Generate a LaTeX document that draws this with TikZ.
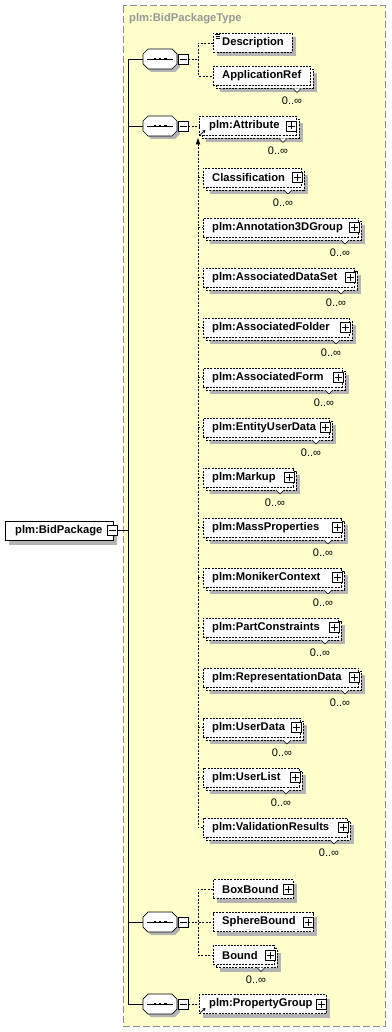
\documentclass[tikz,border=0pt]{standalone}
\usepackage{fontspec}
\setmainfont{Liberation Sans}
\usetikzlibrary{arrows.meta}
\definecolor{ylw}{RGB}{255,255,204}
\definecolor{shd}{RGB}{180,180,180}
\definecolor{frm}{RGB}{140,140,140}
\definecolor{ttl}{RGB}{150,150,150}
\newcommand\elfont{\fontsize{11.2}{13}\selectfont\bfseries}
\newcommand\occfont{\fontsize{11}{13}\selectfont}
\tikzset{
  elbox/.style={draw=black, fill=white, dash pattern=on 2pt off 1.2pt, line width=0.7pt, inner sep=0pt},
  pmbox/.style={draw=black, fill=white, solid, line width=0.6pt, minimum size=10pt, inner sep=0pt},
  lbl/.style={font=\elfont, anchor=west, inner sep=0pt},
  occ/.style={font=\occfont, inner sep=0pt},
  conn/.style={dash pattern=on 2pt off 1.5pt, line width=0.7pt},
  trunk/.style={line width=0.8pt},
}
% #1 name, #2 left, #3 right, #4 y, #5 text, #6 stacked(1/0)
\newcommand\myel[6]{%
  \ifnum#6=1
    \fill[shd] (#2+7,#4-9.5+7) rectangle (#3+7,#4+9.5+7);
    \draw[elbox] (#2+3,#4-9.5+3) rectangle (#3+3,#4+9.5+3);
  \else
    \fill[shd] (#2+4,#4-9.5+4) rectangle (#3+4,#4+9.5+4);
  \fi
  \pgfmathsetmacro\mywd{#3-#2}%
  \node[elbox, minimum width=\mywd pt, minimum height=19pt, anchor=west] (#1) at (#2,#4) {};
  \node[lbl] (#1t) at (#2+9,#4) {#5};
  \ifnum#6=1
    \draw[line width=0.6pt, fill=white] (#3-17,#4+12.5) -- (#3-13,#4+16.5) -- (#3-9,#4+12.5);
    \node[occ] (#1o) at (#3-18,#4+25) {0..∞};
  \fi
}
\newcommand\myplus[3]{% name, x, y
  \node[pmbox] (#1) at (#2,#3) {};
  \draw[line width=0.6pt] (#2-3.5,#3) -- (#2+3.5,#3) (#2,#3-3.5) -- (#2,#3+3.5);
}
\newcommand\myminus[3]{% name, x, y
  \node[pmbox] (#1) at (#2,#3) {};
  \draw[line width=0.6pt] (#2-3.5,#3) -- (#2+3.5,#3);
}
% #1 name, #2 y
\newcommand\myseq[2]{%
  \fill[shd] (146,#2-2) -- (151,#2-7) -- (175,#2-7) -- (180,#2-2) -- (180,#2+8) -- (175,#2+13) -- (151,#2+13) -- (146,#2+8) -- cycle;
  \node[minimum width=34pt, minimum height=20pt, inner sep=0pt] (#1) at (160,#2) {};
  \draw[line width=0.7pt, fill=white] (143,#2-5) -- (148,#2-10) -- (172,#2-10) -- (177,#2-5) -- (177,#2+5) -- (172,#2+10) -- (148,#2+10) -- (143,#2+5) -- cycle;
  \draw[line width=0.7pt] (147,#2) -- (173,#2);
  \fill (153.5,#2-1.3) rectangle +(2.6,2.6);
  \fill (158.7,#2-1.3) rectangle +(2.6,2.6);
  \fill (163.9,#2-1.3) rectangle +(2.6,2.6);
  \myminus{#1m}{183}{#2}
}
\newcommand\myref[2]{% x,y bottom-left arrow
  \draw[line width=0.8pt, -{Stealth[length=3pt,width=3.2pt]}] (#1,#2) -- (#1+5,#2-4.5);
}
\begin{document}
\begin{tikzpicture}[x=1pt,y=-1pt]
\useasboundingbox (0,0) rectangle (391,1032);
\fill[white] (0,0) rectangle (391,1032);
% frame
\draw[frm, fill=ylw, line width=1pt, dash pattern=on 7pt off 3pt] (123,6) rectangle (385,1026);
\node[font=\elfont, text=ttl, anchor=west, inner sep=0pt] (title) at (129,19) {plm:BidPackageType};

% root
\fill[shd] (9,524.5) rectangle (117,544.5);
\node[draw=black, fill=white, line width=0.7pt, minimum width=108pt, minimum height=19pt, anchor=west, inner sep=0pt] (root) at (5,530.5) {};
\node[lbl] (roott) at (15,530.5) {plm:BidPackage};
\myminus{rootm}{112}{530.5}

% sequences
\myseq{s1}{59}
\myseq{s2}{126}
\myseq{s3}{922}
\myseq{s4}{1004}

% trunk
\coordinate (tk) at (128,530.5);
\draw[trunk] (rootm.east) -- (tk);
\draw[trunk] (s1.west) -- (s1.west -| tk) -- (s4.west -| tk) -- (s4.west);
\draw[trunk] (s2.west) -- (s2.west -| tk);
\draw[trunk] (s3.west) -- (s3.west -| tk);

% seq 1
\myel{desc}{213}{292}{43}{Description}{0}
\draw[line width=0.5pt] (214.5,34.3) -- (220,34.3) (216,36.3) -- (220,36.3) (216,38.3) -- (220,38.3);
\myel{appref}{213}{310}{76}{ApplicationRef}{1}
\coordinate (j1) at (198,59);
\draw[conn] (s1m.east) -- (j1);
\draw[conn] (desc.west) -| (j1) |- (appref.west);

% seq 2
\myel{attr}{199}{296}{126}{\hspace{1pt}plm:Attribute}{1}
\myplus{attrp}{291.5}{126}
\myref{200.5}{134.5}
\draw[conn] (s2m.east) -- (attr.west);
\fill (198,138) -- (200.3,144.5) -- (195.7,144.5) -- cycle;
\coordinate (v2top) at (198,144);

\myel{cls}{203}{301}{177.5}{Classification}{1}
\myplus{clsp}{297}{177.5}
\myel{ann}{203}{358}{227.5}{plm:Annotation3DGroup}{1}
\myplus{annp}{354}{227.5}
\myel{ads}{203}{354}{277.5}{plm:AssociatedDataSet}{1}
\myplus{adsp}{350}{277.5}
\myel{afo}{203}{349}{327.5}{plm:AssociatedFolder}{1}
\myplus{afop}{345}{327.5}
\myel{afm}{203}{342}{377.5}{plm:AssociatedForm}{1}
\myplus{afmp}{338}{377.5}
\myel{eud}{203}{329}{427.5}{plm:EntityUserData}{1}
\myplus{eudp}{325}{427.5}
\myel{mkp}{203}{293}{477.5}{plm:Markup}{1}
\myplus{mkpp}{289}{477.5}
\myel{mps}{203}{341}{527.5}{plm:MassProperties}{1}
\myplus{mpsp}{337}{527.5}
\myel{mon}{203}{341}{577.5}{plm:MonikerContext}{1}
\myplus{monp}{337}{577.5}
\myel{pcs}{203}{338}{627.5}{plm:PartConstraints}{1}
\myplus{pcsp}{334}{627.5}
\myel{rep}{203}{358}{677.5}{plm:RepresentationData}{1}
\myplus{repp}{354}{677.5}
\myel{ud}{203}{300}{727.5}{plm:UserData}{1}
\myplus{udp}{296}{727.5}
\myel{ul}{203}{299}{777.5}{plm:UserList}{1}
\myplus{ulp}{295}{777.5}
\myel{vr}{203}{347}{827.5}{plm:ValidationResults}{1}
\myplus{vrp}{343}{827.5}

\draw[conn] (v2top) -- (v2top |- vr.west) -- (vr.west);
\foreach \e in {cls,ann,ads,afo,afm,eud,mkp,mps,mon,pcs,rep,ud,ul}{
  \draw[conn] (v2top |- \e.west) -- (\e.west);
}

% seq 3
\myel{box}{213}{293}{889}{BoxBound}{0}
\myplus{boxp}{288}{889}
\myel{sph}{213}{313}{922}{SphereBound}{0}
\myplus{sphp}{308}{922}
\myel{bnd}{213}{274}{955}{Bound}{1}
\myplus{bndp}{270}{955}
\coordinate (j3) at (198,922);
\draw[conn] (s3m.east) -- (sph.west);
\draw[conn] (box.west) -| (j3) |- (bnd.west);

% seq 4
\myel{pg}{199}{326}{1004}{\hspace{1pt}plm:PropertyGroup}{0}
\myplus{pgp}{321}{1004}
\myref{200.5}{1012.5}
\draw[conn] (s4m.east) -- (pg.west);
\end{tikzpicture}
\end{document}
